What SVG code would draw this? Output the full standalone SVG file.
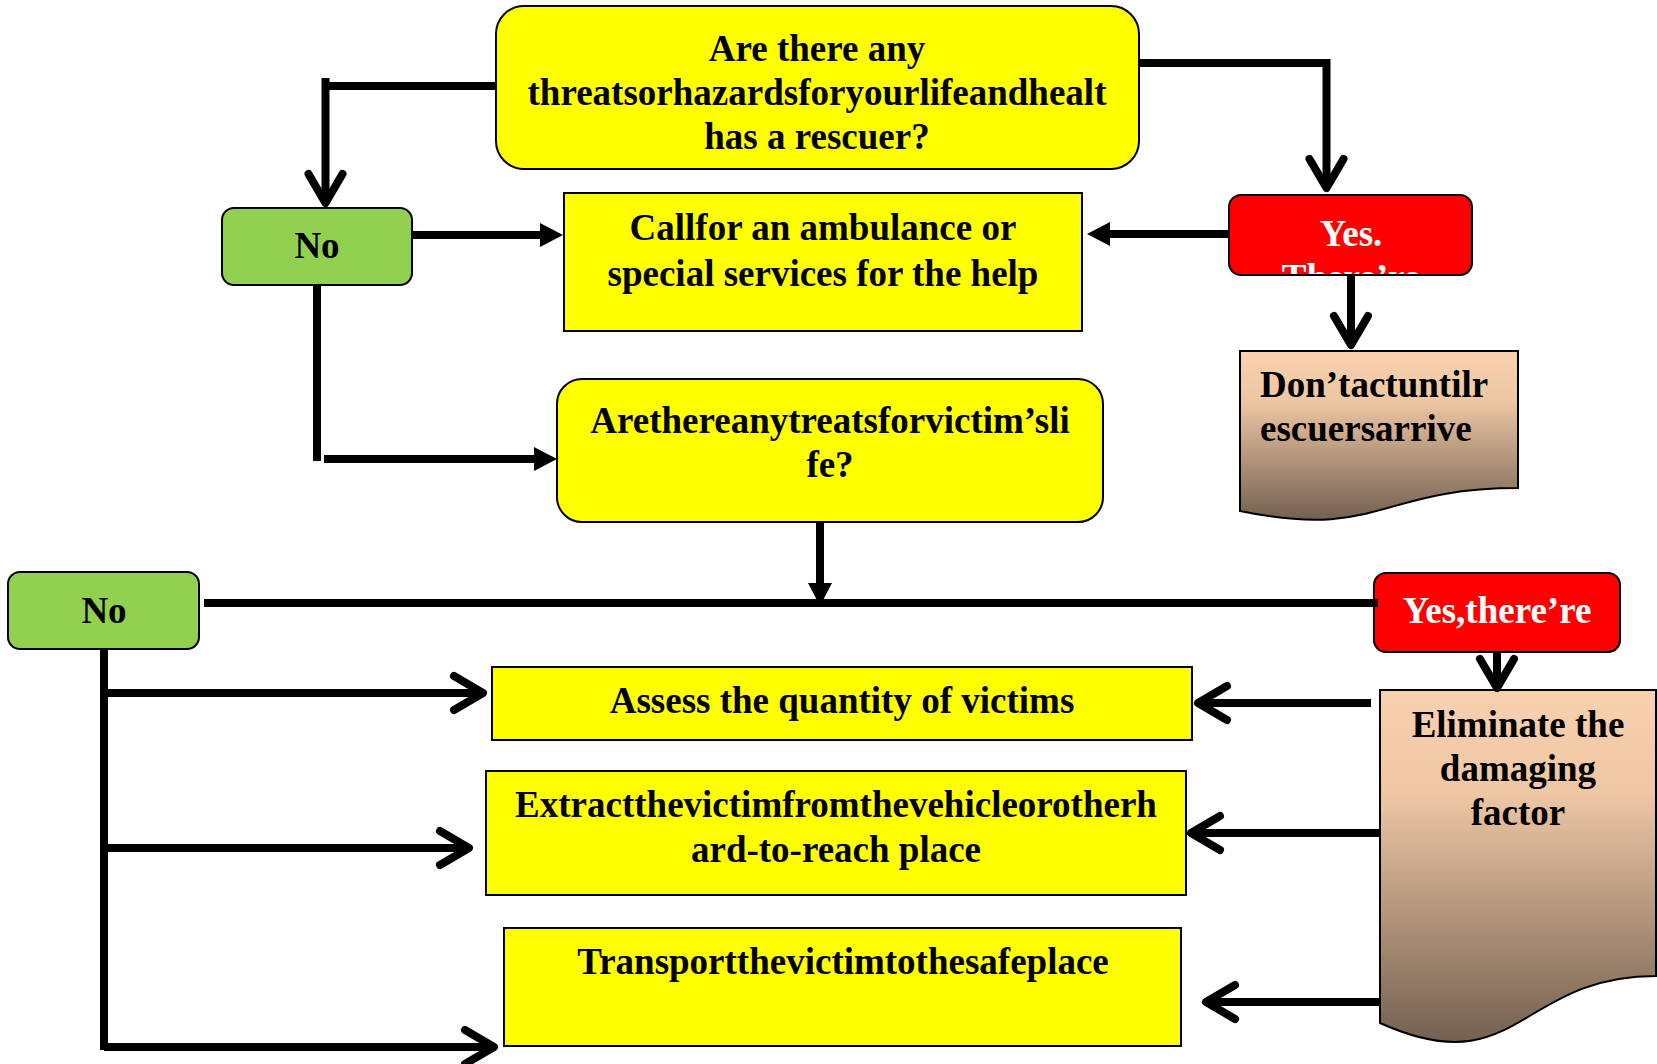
<svg xmlns="http://www.w3.org/2000/svg" width="1657" height="1064" viewBox="0 0 1657 1064">
<style>
.t{font-family:"Liberation Serif","Times New Roman",serif;font-weight:bold;font-size:37px;fill:#000;text-anchor:middle}
.w{fill:#fff}
.l{text-anchor:start}
.y{fill:#ffff00;stroke:#000;stroke-width:2}
.g{fill:#92d050;stroke:#000;stroke-width:2}
.r{fill:#ff0000;stroke:#000;stroke-width:2}
.d{fill:url(#doc);stroke:#000;stroke-width:2}
.c{fill:none;stroke:#000;stroke-width:8}
.ct{marker-end:url(#tri)}
.cv{marker-end:url(#chev)}
</style>
<defs>
<linearGradient id="doc" x1="0" y1="0" x2="0" y2="1">
<stop offset="0" stop-color="#f8d2b0"/>
<stop offset="0.3" stop-color="#edc6a4"/>
<stop offset="1" stop-color="#736050"/>
</linearGradient>
<marker id="tri" markerUnits="userSpaceOnUse" viewBox="0 -13 24 26" markerWidth="24" markerHeight="26" refX="0" refY="0" orient="auto" overflow="visible">
<path d="M0,-12 L23,0 L0,12 Z" fill="#000"/>
</marker>
<marker id="chev" markerUnits="userSpaceOnUse" viewBox="-36 -24 40 48" markerWidth="40" markerHeight="48" refX="0" refY="0" orient="auto" overflow="visible">
<path d="M-29,-17 L0,0 L-29,17" fill="none" stroke="#000" stroke-width="8" stroke-linecap="round" stroke-linejoin="round"/>
</marker>
<clipPath id="yclip"><rect x="1230" y="196" width="241" height="78"/></clipPath>
</defs>

<g id="n-q1">
<rect class="y" x="496" y="6" width="643" height="163" rx="28"/>
<text class="t" x="817" y="61">Are there any</text>
<text class="t" x="817" y="105">threatsorhazardsforyourlifeandhealt</text>
<text class="t" x="817" y="149">has a rescuer?</text>
</g>
<g id="n-no1">
<rect class="g" x="222" y="208" width="190" height="77" rx="12"/>
<text class="t" x="317" y="258">No</text>
</g>
<g id="n-call">
<rect class="y" x="564" y="193" width="518" height="138"/>
<text class="t" x="823" y="240">Callfor an ambulance or</text>
<text class="t" x="823" y="286">special services for the help</text>
</g>
<g id="n-yes1">
<rect class="r" x="1229" y="195" width="243" height="80" rx="12"/>
<text class="t w" x="1351" y="246">Yes.</text>
<text class="t w" x="1351" y="290" clip-path="url(#yclip)">There’re</text>
</g>
<g id="n-dont">
<path class="d" d="M1240,351 H1518 V488 C1379,488 1379,540 1240,511 Z"/>
<text class="t l" x="1260" y="397">Don’tactuntilr</text>
<text class="t l" x="1260" y="441">escuersarrive</text>
</g>
<g id="n-q2">
<rect class="y" x="557" y="379" width="546" height="143" rx="25"/>
<text class="t" x="830" y="433">Arethereanytreatsforvictim’sli</text>
<text class="t" x="830" y="477">fe?</text>
</g>
<g id="n-no2">
<rect class="g" x="8" y="572" width="191" height="77" rx="12"/>
<text class="t" x="104" y="623">No</text>
</g>
<g id="n-yes2">
<rect class="r" x="1374" y="573" width="246" height="79" rx="12"/>
<text class="t w" x="1497" y="623">Yes,there’re</text>
</g>
<g id="n-elim">
<path class="d" d="M1380,690 H1656 V976 C1518,976 1518,1085 1380,1023 Z"/>
<text class="t" x="1518" y="737">Eliminate the</text>
<text class="t" x="1518" y="781">damaging</text>
<text class="t" x="1518" y="825">factor</text>
</g>
<g id="n-assess">
<rect class="y" x="492" y="667" width="700" height="73"/>
<text class="t" x="842" y="713">Assess the quantity of victims</text>
</g>
<g id="n-extract">
<rect class="y" x="486" y="771" width="700" height="124"/>
<text class="t" x="836" y="817">Extractthevictimfromthevehicleorotherh</text>
<text class="t" x="836" y="862">ard-to-reach place</text>
</g>
<g id="n-transport">
<rect class="y" x="504" y="928" width="677" height="118"/>
<text class="t" x="843" y="974">Transportthevictimtothesafeplace</text>
</g>

<g id="connectors">
<path class="c" d="M496,86 H322"/>
<path class="c cv" d="M325.5,78 V203"/>
<path class="c cv" d="M1139,63 H1326.5 V188"/>
<path class="c ct" d="M412,235 H540"/>
<path class="c ct" d="M1229,234 H1110"/>
<path class="c cv" d="M1351,275 V345"/>
<path class="c" d="M317,285 V461"/>
<path class="c ct" d="M324,459 H534"/>
<path class="c ct" d="M820,522 V583"/>
<path class="c" d="M204,603 H1378"/>
<path class="c cv" d="M1497,652 V688"/>
<path class="c" d="M104,649 V1050"/>
<path class="c cv" d="M104,693 H483"/>
<path class="c cv" d="M104,848 H469"/>
<path class="c cv" d="M104,1047 H494"/>
<path class="c cv" d="M1371,703 H1198"/>
<path class="c cv" d="M1381,833 H1191"/>
<path class="c cv" d="M1381,1002 H1206"/>
</g>
</svg>
